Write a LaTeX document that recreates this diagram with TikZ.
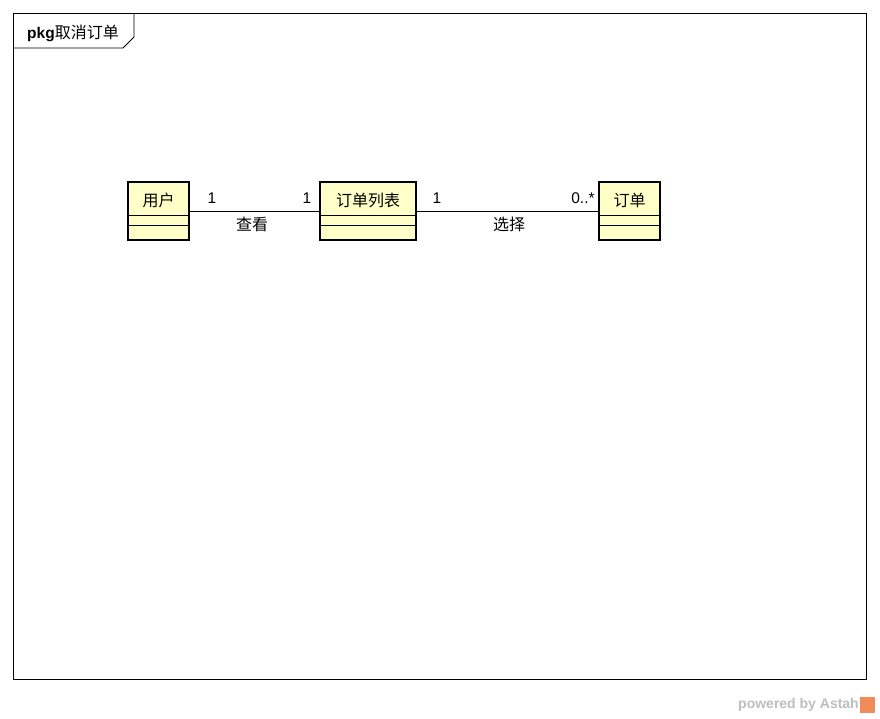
\documentclass[tikz,border=0pt]{standalone}
\usepackage{fontspec}
\setmainfont{Liberation Sans}
\newfontfamily\cjk{Noto Sans CJK SC}
\definecolor{clsfill}{RGB}{255,255,200}
\definecolor{wmgray}{RGB}{190,190,190}
\definecolor{wmorange}{RGB}{240,140,90}
\begin{document}
\begin{tikzpicture}[x=1pt,y=-1pt,
  txt/.style={font=\fontsize{16}{18}\selectfont\cjk, inner sep=0pt},
  mult/.style={font=\fontsize{15.5}{18}\selectfont, inner sep=0pt},
  cls/.style={draw=black, line width=2.8pt, fill=clsfill},
  comp/.style={draw=black, line width=0.9pt},
  assoc/.style={draw=black, line width=0.9pt}]
\useasboundingbox (0,0) rectangle (880,718);
\fill[white] (0,0) rectangle (880,718);
% frame
\draw[line width=0.9pt] (13,13) rectangle (866,679);
\draw[line width=0.9pt] (13,48) -- (123,48) -- (134,37) -- (134,13);
\node[anchor=west, inner sep=0pt, font=\fontsize{15.5}{18}\selectfont] (pkg) at (27,33) {\textbf{pkg}{\fontsize{16}{18}\selectfont\cjk 取消订单}};
% classes
\draw[cls] (128,182) rectangle (189,240);
\draw[comp] (128,215) -- (189,215);
\draw[comp] (128,225) -- (189,225);
\node[txt] (user) at (158.5,200) {用户};
\coordinate (userR) at (189,211);

\draw[cls] (320,182) rectangle (416,240);
\draw[comp] (320,215) -- (416,215);
\draw[comp] (320,225) -- (416,225);
\node[txt] (list) at (368,200) {订单列表};
\coordinate (listL) at (320,211);
\coordinate (listR) at (416,211);

\draw[cls] (599,182) rectangle (660,240);
\draw[comp] (599,215) -- (660,215);
\draw[comp] (599,225) -- (660,225);
\node[txt] (order) at (629.5,200) {订单};
\coordinate (orderL) at (599,211);
% associations
\draw[assoc] (userR) -- (listL);
\draw[assoc] (listR) -- (orderL);
\node[mult] (m1) at (212,198) {1};
\node[mult] (m2) at (307,198) {1};
\node[txt] (l1) at (252,224) {查看};
\node[mult] (m3) at (437,198) {1};
\node[mult] (m4) at (583,198) {0..*};
\node[txt] (l2) at (509,224) {选择};
% watermark
\node[anchor=east, inner sep=0pt, text=wmgray, font=\fontsize{14}{16}\selectfont\bfseries] (wm) at (859,705) {powered by Astah};
\fill[wmorange] (860,697) rectangle (875,713);
\end{tikzpicture}
\end{document}
